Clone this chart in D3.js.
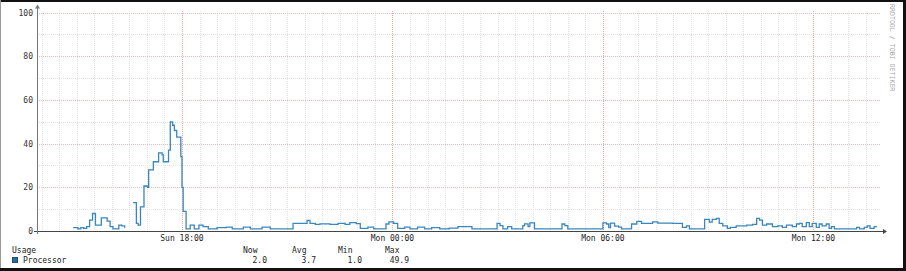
<!DOCTYPE html>
<html>
<head>
<meta charset="utf-8">
<script src="https://cdn.jsdelivr.net/npm/d3@7"></script>
<style>
  body { margin: 0; background: #fff; }
  svg { display: block; }
  text { font-family: "DejaVu Sans Mono", "Liberation Mono", monospace; }
</style>
</head>
<body>
<div id="chart"></div>
<script>
// processor usage, one entry per change of value (step graph, rrdtool style)
var sampleTimes = [
  'Sun 14:54', 'Sun 15:02', 'Sun 15:07', 'Sun 15:12', 'Sun 15:17', 'Sun 15:22', 'Sun 15:27', 'Sun 15:32',
  'Sun 15:42', 'Sun 15:52', 'Sun 15:57', 'Sun 16:02', 'Sun 16:12', 'Sun 16:17', 'Sun 16:22', 'Sun 16:27',
  'Sun 16:36', 'Sun 16:42', 'Sun 16:45', 'Sun 16:49', 'Sun 16:55', 'Sun 17:01', 'Sun 17:03', 'Sun 17:11',
  'Sun 17:20', 'Sun 17:26', 'Sun 17:28', 'Sun 17:37', 'Sun 17:40', 'Sun 17:44', 'Sun 17:47', 'Sun 17:51',
  'Sun 17:58', 'Sun 18:00', 'Sun 18:02', 'Sun 18:07', 'Sun 18:14', 'Sun 18:21', 'Sun 18:29', 'Sun 18:36',
  'Sun 18:45', 'Sun 19:00', 'Sun 19:16', 'Sun 19:26', 'Sun 19:45', 'Sun 19:57', 'Sun 20:17', 'Sun 20:31',
  'Sun 21:10', 'Sun 21:34', 'Sun 21:39', 'Sun 21:48', 'Sun 21:56', 'Sun 22:13', 'Sun 22:27', 'Sun 22:39',
  'Sun 22:47', 'Sun 22:58', 'Sun 23:05', 'Sun 23:18', 'Sun 23:28', 'Sun 23:49', 'Sun 23:54',
  'Mon 00:02', 'Mon 00:09', 'Mon 00:21', 'Mon 00:30', 'Mon 00:43', 'Mon 00:55', 'Mon 01:07', 'Mon 01:21',
  'Mon 01:37', 'Mon 01:52', 'Mon 02:16', 'Mon 02:59', 'Mon 03:04', 'Mon 03:09', 'Mon 03:17', 'Mon 03:24',
  'Mon 03:43', 'Mon 03:46', 'Mon 03:52', 'Mon 03:55', 'Mon 04:03', 'Mon 04:50', 'Mon 04:55', 'Mon 05:00',
  'Mon 06:00', 'Mon 06:06', 'Mon 06:10', 'Mon 06:13', 'Mon 06:20', 'Mon 06:27', 'Mon 06:32', 'Mon 06:49',
  'Mon 06:58', 'Mon 07:06', 'Mon 07:25', 'Mon 07:34', 'Mon 07:59', 'Mon 08:16', 'Mon 08:23', 'Mon 08:28',
  'Mon 08:54', 'Mon 09:02', 'Mon 09:07', 'Mon 09:14', 'Mon 09:19', 'Mon 09:25', 'Mon 09:33', 'Mon 09:38',
  'Mon 09:48', 'Mon 10:06', 'Mon 10:16', 'Mon 10:23', 'Mon 10:28', 'Mon 10:33', 'Mon 10:40', 'Mon 10:50',
  'Mon 10:59', 'Mon 11:07', 'Mon 11:14', 'Mon 11:24', 'Mon 11:31', 'Mon 11:36', 'Mon 11:41', 'Mon 11:48',
  'Mon 11:53', 'Mon 11:58', 'Mon 12:05', 'Mon 12:10', 'Mon 12:15', 'Mon 12:22', 'Mon 12:27', 'Mon 12:31',
  'Mon 12:36', 'Mon 13:14', 'Mon 13:19', 'Mon 13:27', 'Mon 13:32', 'Mon 13:37', 'Mon 13:44', 'Mon 13:49'
];
var processorUsage = [
  1.5, 1.0, 1.5, 1.2, 2.0, 5.0, 8.0, 2.7,
  6.0, 4.5, 2.0, 1.0, 2.7, 2.3, 1.5, null,
  13.0, 3.5, 2.7, 11.0, 20.6, 20.0, 28.0, 31.7,
  35.8, 34.8, 31.7, 37.0, 49.9, 48.4, 46.0, 43.0,
  34.0, 20.0, 9.0, 1.0, 2.7, 1.0, 2.7, 2.0,
  1.0, 1.5, 1.8, 1.0, 1.8, 1.0, 1.8, 1.0,
  3.5, 4.9, 3.5, 3.0, 3.3, 3.0, 3.5, 3.0,
  3.8, 3.4, 1.2, 1.8, 1.0, 3.2, 4.2,
  3.5, 1.2, 1.8, 1.0, 1.8, 1.0, 1.5, 1.0,
  1.3, 2.0, 1.0, 3.5, 2.5, 1.0, 2.0, 1.0,
  2.5, 3.3, 2.0, 3.7, 1.0, 3.2, 2.5, 1.0,
  3.7, 3.2, 1.5, 3.6, 2.2, 1.8, 1.0, 3.2,
  4.4, 3.5, 4.2, 3.6, 3.5, 1.7, 2.3, 1.0,
  5.3, 4.1, 5.3, 5.8, 3.5, 2.3, 1.2, 1.7,
  2.3, 2.7, 3.0, 5.8, 5.0, 2.7, 3.2, 2.0,
  2.3, 1.7, 2.7, 2.0, 3.2, 3.5, 2.0, 3.8,
  2.0, 3.5, 1.7, 3.2, 2.3, 3.2, 1.2, 2.0,
  1.0, 1.7, 1.0, 1.7, 2.3, 1.2, 2.0, 2.0
];
var timeSpan = ['Sun 13:52', 'Mon 13:54'];
var yTicks = [0, 20, 40, 60, 80, 100];
var legendTitle = 'Usage';
var seriesName = 'Processor';
var statNames = ['Now', 'Avg', 'Min', 'Max'];
var statValues = ['2.0', '3.7', '1.0', '49.9'];

var days = { Sun: '2013-06-16', Mon: '2013-06-17' };
var parseTime = d3.utcParse('%Y-%m-%d %H:%M');
function toDate(s) {
  var parts = s.split(' ');
  return parseTime(days[parts[0]] + ' ' + parts[1]);
}

var width = 906, height = 271;
var plot = { left: 37, right: 880, top: 12.5, bottom: 231 };
var lineColor = '#3a86bd';

var svg = d3.select('#chart').append('svg')
  .attr('width', width)
  .attr('height', height);

svg.append('rect').attr('width', width).attr('height', height).attr('fill', '#fff');

var x = d3.scaleUtc()
  .domain(timeSpan.map(toDate))
  .range([plot.left, plot.right]);
var y = d3.scaleLinear()
  .domain([0, 100])
  .range([plot.bottom, plot.top]);

// grid: minor first, major (reddish) on top
var grid = svg.append('g').attr('shape-rendering', 'crispEdges');
var minorX = x.ticks(d3.utcMinute.every(30));
var majorX = x.ticks(d3.utcHour.every(6));
var minorY = d3.range(10, 100, 20);

function gridLines(cls, data, vertical, color) {
  grid.selectAll('.' + cls).data(data).enter().append('line')
    .attr('class', cls)
    .attr('x1', function(d) { return vertical ? Math.round(x(d)) + 0.5 : plot.left; })
    .attr('x2', function(d) { return vertical ? Math.round(x(d)) + 0.5 : plot.right; })
    .attr('y1', function(d) { return vertical ? plot.top - 2 : Math.round(y(d)) + 0.5; })
    .attr('y2', function(d) { return vertical ? plot.bottom : Math.round(y(d)) + 0.5; })
    .attr('stroke', color)
    .attr('stroke-dasharray', '1,1');
}
gridLines('vminor', minorX, true, '#e2e2e2');
gridLines('hminor', minorY, false, '#e2e2e2');
gridLines('vmajor', majorX, true, '#eda0a0');
gridLines('hmajor', yTicks.slice(1), false, '#e8bcbc');

// the series
var points = sampleTimes.map(function(t, i) {
  return { t: toDate(t), v: processorUsage[i] };
});
var line = d3.line()
  .defined(function(d) { return d.v != null; })
  .x(function(d) { return x(d.t); })
  .y(function(d) { return y(d.v); })
  .curve(d3.curveStepAfter);
svg.append('path')
  .datum(points)
  .attr('d', line)
  .attr('fill', 'none')
  .attr('stroke', lineColor)
  .attr('stroke-width', 1.3);

// axes with arrow heads
var axisColor = '#444';
svg.append('line')
  .attr('x1', plot.left - 3).attr('x2', plot.right + 3)
  .attr('y1', plot.bottom + 0.5).attr('y2', plot.bottom + 0.5)
  .attr('stroke', axisColor).attr('shape-rendering', 'crispEdges');
svg.append('line')
  .attr('x1', plot.left + 0.5).attr('x2', plot.left + 0.5)
  .attr('y1', plot.bottom + 3).attr('y2', plot.top - 5)
  .attr('stroke', '#777').attr('shape-rendering', 'crispEdges');
svg.append('path')
  .attr('d', 'M' + (plot.right + 3) + ',' + (plot.bottom - 2) + 'l4,2.5l-4,2.5z')
  .attr('fill', axisColor);
svg.append('path')
  .attr('d', 'M' + (plot.left - 2) + ',' + (plot.top - 4) + 'l2.5,-4l2.5,4z')
  .attr('fill', '#777');

svg.append('g').selectAll('text').data(yTicks).enter().append('text')
  .attr('x', 33)
  .attr('y', function(d) { return y(d) + 3; })
  .attr('text-anchor', 'end')
  .attr('font-size', '8px')
  .attr('fill', '#333')
  .text(function(d) { return d; });

var fmt = d3.utcFormat('%a %H:%M');
svg.append('g').selectAll('text').data(majorX).enter().append('text')
  .attr('x', function(d) { return x(d); })
  .attr('y', 240.5)
  .attr('text-anchor', 'middle')
  .attr('font-size', '8px')
  .attr('fill', '#222')
  .text(function(d) { return fmt(d); });

// watermark on the right edge
svg.append('text')
  .attr('transform', 'translate(890,4) rotate(90)')
  .attr('font-size', '6.6px')
  .attr('fill', '#a8a8a8')
  .text('RRDTOOL / TOBI OETIKER');

// legend
var legend = svg.append('g').attr('font-size', '8px').attr('fill', '#222');
legend.append('text').attr('x', 12).attr('y', 253).text(legendTitle);
legend.append('rect')
  .attr('x', 12.5).attr('y', 257.5).attr('width', 5).attr('height', 5)
  .attr('fill', '#2a6e99').attr('stroke', '#1d4f70');
legend.append('text').attr('x', 23).attr('y', 263).text(seriesName);

var statX = [243, 292, 338, 385];
legend.selectAll('.head').data(statNames).enter().append('text')
  .attr('x', function(d, i) { return statX[i]; })
  .attr('y', 253)
  .text(function(d) { return d; });
legend.selectAll('.val').data(statValues).enter().append('text')
  .attr('x', function(d, i) { return statX[i] + 24; })
  .attr('y', 263)
  .attr('text-anchor', 'end')
  .text(function(d) { return d; });

// frame, dark on the bottom and right like the original
var frame = svg.append('g').attr('shape-rendering', 'crispEdges');
frame.append('rect').attr('x', 0).attr('y', 0).attr('width', width).attr('height', 2).attr('fill', '#111');
frame.append('rect').attr('x', 0).attr('y', 0).attr('width', 1).attr('height', height).attr('fill', '#999');
frame.append('rect').attr('x', width - 3).attr('y', 0).attr('width', 3).attr('height', height).attr('fill', '#111');
frame.append('rect').attr('x', 0).attr('y', height - 3).attr('width', width).attr('height', 3).attr('fill', '#111');
</script>
</body>
</html>
